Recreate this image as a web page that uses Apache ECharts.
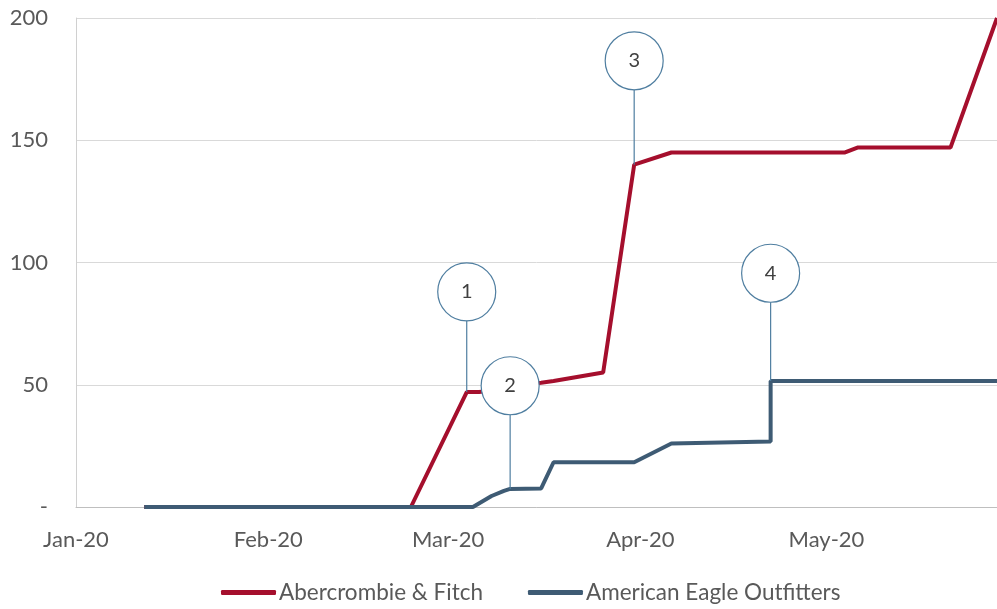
<!DOCTYPE html>
<html>
<head>
<meta charset="utf-8">
<script src="https://cdn.jsdelivr.net/npm/echarts@6/dist/echarts.min.js"></script>
<style>
  html, body { margin: 0; padding: 0; background: #fff; }
  #main { width: 997px; height: 609px; }
</style>
</head>
<body>
<div id="main"></div>
<script>
// Abercrombie & Fitch
const afDates = ['2020-01-12', '2020-02-24', '2020-03-04', '2020-03-06', '2020-03-09', '2020-03-12',
  '2020-03-16', '2020-03-18', '2020-03-26', '2020-03-31', '2020-04-06', '2020-05-04', '2020-05-06',
  '2020-05-21', '2020-05-28 12:00'];
const afValues = [0, 0, 47, 47, 48, 49.5, 50.8, 51.5, 55, 140, 145, 145, 147, 147, 200];

// American Eagle Outfitters
const aeoDates = ['2020-01-12', '2020-03-05', '2020-03-08', '2020-03-10', '2020-03-11', '2020-03-16',
  '2020-03-18', '2020-03-31', '2020-04-06', '2020-04-22', '2020-04-22', '2020-05-28 12:00'];
const aeoValues = [0, 0, 4.5, 6.6, 7.4, 7.6, 18.3, 18.3, 26, 26.8, 51.5, 51.5];

// numbered callouts: circle position and the point they mark
const annoLabels = ['1', '2', '3', '4'];
const annoDates = ['2020-03-04', '2020-03-11', '2020-03-31', '2020-04-22'];
const annoCircleValues = [88, 49.6, 182.5, 95.6];
const annoTargetValues = [47, 7.4, 140, 51.5];

const yTicks = [0, 50, 100, 150, 200];
const monthNames = ['Jan', 'Feb', 'Mar', 'Apr', 'May', 'Jun', 'Jul', 'Aug', 'Sep', 'Oct', 'Nov', 'Dec'];

const red = '#A50F2D';
const slate = '#3E5B74';
const callout = '#4F7EA0';
const textColor = '#595959';
const font = 'Lato';

const zip = (xs, ys) => xs.map((x, i) => [x, ys[i]]);

const leaderSeries = annoDates.map((d, i) => ({
  type: 'line',
  silent: true,
  symbol: 'none',
  z: 4,
  lineStyle: { color: callout, width: 1.2 },
  data: [[d, annoCircleValues[i]], [d, annoTargetValues[i]]]
}));

const myChart = echarts.init(document.getElementById('main'));
const option = {
  animation: false,
  grid: { left: 76, right: 0, top: 18, bottom: 102 },
  legend: {
    bottom: 0,
    left: 216,
    data: ['Abercrombie & Fitch', 'American Eagle Outfitters'],
    icon: 'roundRect',
    itemWidth: 55,
    itemHeight: 5,
    itemGap: 45,
    textStyle: { color: textColor, fontSize: 22.5, fontFamily: font, padding: [0, 0, 0, -2] }
  },
  xAxis: {
    type: 'time',
    min: '2020-01-01',
    max: '2020-05-28 12:00',
    minInterval: 28 * 24 * 3600 * 1000,
    maxInterval: 31 * 24 * 3600 * 1000,
    axisLine: { lineStyle: { color: '#bfbfbf', width: 1 } },
    axisTick: { show: false },
    splitLine: { show: false },
    axisLabel: {
      color: textColor,
      fontSize: 22,
      fontFamily: font,
      margin: 22,
      showMaxLabel: false,
      formatter: function (val) {
        const d = new Date(val);
        return monthNames[d.getMonth()] + '-' + String(d.getFullYear()).slice(2);
      }
    }
  },
  yAxis: {
    type: 'value',
    min: yTicks[0],
    max: yTicks[yTicks.length - 1],
    interval: 50,
    axisLine: { show: true, lineStyle: { color: '#d0d0d0' } },
    axisTick: { show: false },
    splitLine: { lineStyle: { color: '#d9d9d9' } },
    axisLabel: {
      color: textColor,
      fontSize: 22,
      fontFamily: font,
      margin: 28,
      formatter: v => v === 0 ? '-' : String(v)
    }
  },
  series: [
    {
      name: 'Abercrombie & Fitch',
      type: 'line',
      symbol: 'none',
      z: 3,
      lineStyle: { color: red, width: 4 },
      itemStyle: { color: red },
      data: zip(afDates, afValues)
    },
    {
      name: 'American Eagle Outfitters',
      type: 'line',
      symbol: 'none',
      z: 3,
      lineStyle: { color: slate, width: 4 },
      itemStyle: { color: slate },
      data: zip(aeoDates, aeoValues)
    },
    ...leaderSeries,
    {
      type: 'scatter',
      silent: true,
      z: 6,
      symbol: 'circle',
      symbolSize: 58,
      itemStyle: { color: '#fff', borderColor: callout, borderWidth: 1.2, opacity: 1 },
      label: {
        show: true,
        position: 'inside',
        color: '#404040',
        fontSize: 20,
        fontFamily: font,
        formatter: p => annoLabels[p.dataIndex]
      },
      data: zip(annoDates, annoCircleValues)
    }
  ]
};
myChart.setOption(option);
</script>
</body>
</html>
